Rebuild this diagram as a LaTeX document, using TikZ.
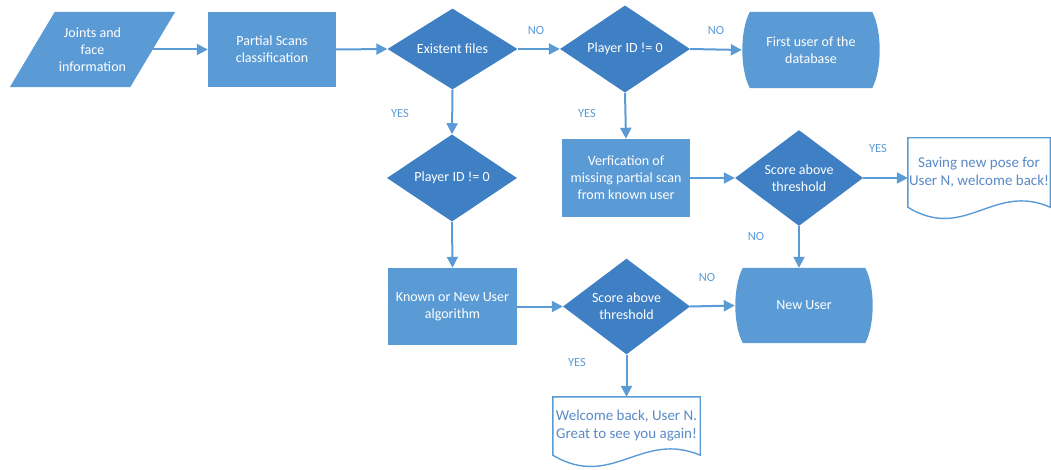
\documentclass[tikz,border=0pt]{standalone}
\usepackage{fontspec}
\setmainfont{Carlito}
\usetikzlibrary{shapes.geometric,arrows.meta,calc,backgrounds}
\definecolor{boxblue}{HTML}{5B9BD5}
\definecolor{diablue}{HTML}{3F7FC3}
\definecolor{lineblue}{HTML}{5B9BD5}
\definecolor{doctext}{HTML}{5A8AC6}
\tikzset{
  txt/.style={text=white, align=center, font=\fontsize{14}{17}\selectfont, inner sep=0pt},
  plainbox/.style={txt, rectangle},
  procbox/.style={txt, rectangle, fill=boxblue},
  decision/.style={txt, diamond, fill=diablue, minimum width=130pt, minimum height=78pt},
  docbox/.style={rectangle, inner sep=0pt, align=center, text=doctext, font=\fontsize{15}{18}\selectfont},
  flow/.style={draw=lineblue, line width=2pt, -{Triangle[length=11pt,width=11pt]}},
  lbl/.style={text=lineblue, font=\fontsize{12.5}{14}\selectfont, inner sep=0pt},
  docline/.style={fill=white, draw=lineblue, line width=1.4pt}
}
\begin{document}
\begin{tikzpicture}[x=1pt,y=-1pt]
\useasboundingbox (0,0) rectangle (1051,470);

% nodes
\node[plainbox, minimum width=120pt, minimum height=75pt] (j) at (92.5,49.5) {Joints and\\face\\information};
\node[procbox, minimum width=128pt, minimum height=75pt] (ps) at (272,49.5) {Partial Scans\\classification};
\node[decision] (ef) at (452.5,49) {Existent files};
\node[decision] (p1) at (625,49) {Player ID != 0};
\node[plainbox, minimum width=138pt, minimum height=76pt] (fu) at (811,50) {First user of the\\database};

\node[decision] (p2) at (452,178) {Player ID != 0};
\node[procbox, minimum width=128pt, minimum height=78pt] (vf) at (626,178) {Verfication of\\missing partial scan\\from known user};
\node[decision, minimum width=128pt] (s1) at (799,178) {Score above\\threshold};
\node[docbox, minimum width=142pt, minimum height=69pt] (sv) at (979,172.5) {Saving new pose for\\User N, welcome back!};

\node[procbox, minimum width=129pt, minimum height=77pt] (kn) at (452.5,306.5) {Known or New User\\algorithm};
\node[decision, minimum width=127pt, minimum height=77pt] (s2) at (626.5,306.5) {Score above\\threshold};
\node[plainbox, minimum width=138pt, minimum height=75pt] (nu) at (804,305.5) {New User};

\node[docbox, minimum width=147pt, minimum height=58pt] (wb) at (626.5,426) {Welcome back, User N.\\Great to see you again!};

% shapes drawn behind texts
\begin{scope}[on background layer]
  \fill[boxblue] ($(j.north west)+(22.5,0)$) -- ($(j.north east)+(22.5,0)$)
     -- ($(j.south east)+(-22.5,0)$) -- ($(j.south west)+(-22.5,0)$) -- cycle;
  \fill[boxblue] ($(fu.north west)+(8,0)$) -- ($(fu.north east)+(-8,0)$)
     .. controls ($(fu.north east)+(2,19)$) and ($(fu.south east)+(2,-19)$) .. ($(fu.south east)+(-8,0)$)
     -- ($(fu.south west)+(8,0)$)
     .. controls ($(fu.south west)+(-2,-19)$) and ($(fu.north west)+(-2,19)$) .. cycle;
  \fill[boxblue] ($(nu.north west)+(8,0)$) -- ($(nu.north east)+(-8,0)$)
     .. controls ($(nu.north east)+(2,19)$) and ($(nu.south east)+(2,-19)$) .. ($(nu.south east)+(-8,0)$)
     -- ($(nu.south west)+(8,0)$)
     .. controls ($(nu.south west)+(-2,-19)$) and ($(nu.north west)+(-2,19)$) .. cycle;
  \filldraw[docline] (wb.south west) -- (wb.north west) -- (wb.north east) -- (wb.south east)
     .. controls ($(wb.south west)!0.6!(wb.south east)+(0,-25)$) and ($(wb.south west)!0.4!(wb.south east)+(0,35)$) .. (wb.south west) -- cycle;
  \filldraw[docline] (sv.south west) -- (sv.north west) -- (sv.north east) -- (sv.south east)
     .. controls ($(sv.south west)!0.6!(sv.south east)+(0,-25)$) and ($(sv.south west)!0.4!(sv.south east)+(0,35)$) .. (sv.south west) -- cycle;
\end{scope}

% connectors
\draw[flow] (j.east) -- (ps.west);
\draw[flow] (ps.east) -- (ef.west);
\draw[flow] (ef.east) -- (p1.west);
\draw[flow] (p1.east) -- (fu.west);
\draw[flow] (ef.south) -- (p2.north);
\draw[flow] (p1.south) -- (vf.north);
\draw[flow] (vf.east) -- (s1.west);
\draw[flow] (s1.east) -- (s1.east -| sv.west);
\draw[flow] (s1.south) -- (s1.south |- nu.north);
\draw[flow] (p2.south) -- (kn.north);
\draw[flow] (kn.east) -- (s2.west);
\draw[flow] (s2.east) -- (nu.west);
\draw[flow] (s2.south) -- (wb.north);

% labels
\node[lbl] (no1) at (536,30) {NO};
\node[lbl] (no2) at (716,30) {NO};
\node[lbl] (yes1) at (400,113) {YES};
\node[lbl] (yes2) at (587,113) {YES};
\node[lbl] (yes3) at (878,148) {YES};
\node[lbl] (no3) at (756,236) {NO};
\node[lbl] (no4) at (707,277) {NO};
\node[lbl] (yes4) at (577,362) {YES};
\end{tikzpicture}
\end{document}
